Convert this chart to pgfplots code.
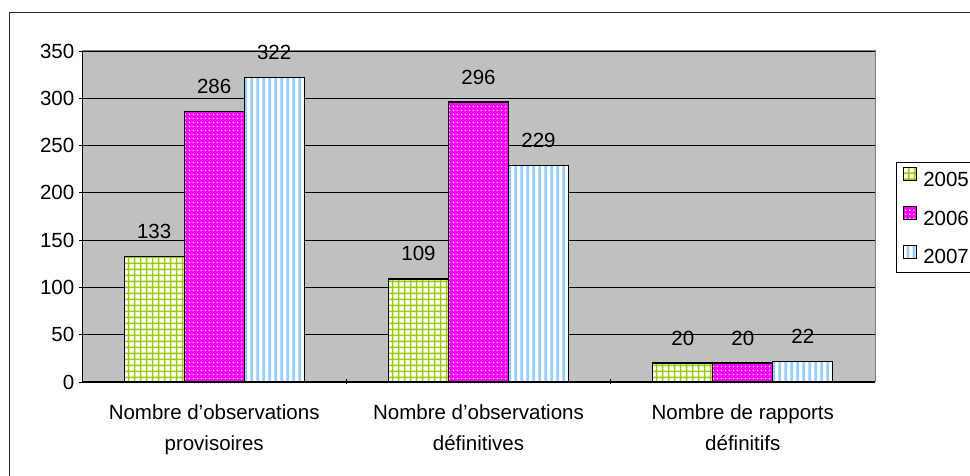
\documentclass[border=0pt]{standalone}
\usepackage{fontspec}
\setmainfont{Liberation Sans}
\usepackage{pgfplots}
\pgfplotsset{compat=1.18}
\usetikzlibrary{patterns}

\definecolor{xlgreen}{HTML}{99CC00}
\definecolor{xlmagenta}{HTML}{FF00FF}
\definecolor{xlblue}{HTML}{99CCFF}
\definecolor{xlgrey}{HTML}{C0C0C0}
\definecolor{xlborder}{HTML}{808080}

% fine grid, white dots and vertical stripes (fills run slightly past the
% tile edge along each line so that no seams appear between tiles)
\pgfdeclarepatternformonly{xlgrid}{\pgfqpoint{0pt}{0pt}}{\pgfqpoint{6pt}{6pt}}{\pgfqpoint{6pt}{6pt}}{%
  \pgfpathrectangle{\pgfqpoint{-1pt}{2.1pt}}{\pgfqpoint{8pt}{1.8pt}}%
  \pgfpathrectangle{\pgfqpoint{2.1pt}{-1pt}}{\pgfqpoint{1.8pt}{8pt}}%
  \pgfusepath{fill}}
\pgfdeclarepatternformonly{xldots}{\pgfqpoint{0pt}{0pt}}{\pgfqpoint{4pt}{4pt}}{\pgfqpoint{4pt}{4pt}}{%
  \pgfpathrectangle{\pgfqpoint{1.2pt}{1.2pt}}{\pgfqpoint{1.6pt}{1.6pt}}%
  \pgfusepath{fill}}
\pgfdeclarepatternformonly{xlstripes}{\pgfqpoint{0pt}{0pt}}{\pgfqpoint{5.8pt}{6pt}}{\pgfqpoint{5.8pt}{6pt}}{%
  \pgfpathrectangle{\pgfqpoint{1.5pt}{-1pt}}{\pgfqpoint{2.8pt}{8pt}}%
  \pgfusepath{fill}}

\pgfkeys{/pgf/number format/assume math mode=true}

\begin{document}
\fontsize{20.5}{30.5}\selectfont
\begin{tikzpicture}[x=1pt,y=1pt]
\draw[line width=1pt, black!85] (9,-10) -- (9,463) -- (990,463);
\begin{axis}[
  at={(82pt,94pt)}, anchor=south west,
  scale only axis, width=793pt, height=331pt,
  ybar=0pt, bar width=60pt,
  xmin=-0.5, xmax=2.5, ymin=0, ymax=350,
  xtick={0,1,2},
  xticklabels={{Nombre d’observations\\provisoires},
               {Nombre d’observations\\définitives},
               {Nombre de rapports\\définitifs}},
  xticklabel style={align=center, anchor=north, inner sep=0pt, yshift=-20pt},
  minor xtick={0.5,1.5},
  major x tick style={draw=none},
  minor x tick style={black, line width=0.8pt},
  ytick={0,50,...,350},
  yticklabel style={inner sep=0pt, xshift=-5pt},
  tick align=outside, major tick length=5pt, minor tick length=5pt,
  y tick style={black, line width=0.8pt},
  axis lines=left,
  axis line style={-, black, line width=1pt},
  axis background/.style={fill=xlgrey, draw=xlborder, line width=1pt},
  ymajorgrids, major grid style={black, line width=0.8pt},
  nodes near coords,
  every node near coord/.append style={anchor=base, yshift=18pt, inner sep=0pt},
  legend cell align=left,
  legend style={at={(rel axis cs:1,0.665)}, anchor=north west, xshift=21pt,
    draw=black, line width=0.8pt, fill=white, inner xsep=7pt, inner ysep=5pt,
    row sep=15.5pt,
    nodes={inner sep=0pt, text height=14pt, text depth=4pt},
    /tikz/every odd column/.append style={column sep=6pt}},
  legend image code/.code={\draw[#1, line width=0.9pt] (0pt,0.7pt) rectangle (13pt,13.7pt);},
]
\addplot[draw=black, line width=1.2pt, fill=white,
  postaction={pattern=xlgrid, pattern color=xlgreen}]
  coordinates {(0,133) (1,109) (2,20)};
\addplot[draw=black, line width=1.2pt, fill=xlmagenta,
  postaction={pattern=xldots, pattern color=white}]
  coordinates {(0,286) (1,296) (2,20)};
\addplot[draw=black, line width=1.2pt, fill=white,
  postaction={pattern=xlstripes, pattern color=xlblue}]
  coordinates {(0,322) (1,229) (2,22)};
\legend{2005,2006,2007}
\end{axis}
\pgfresetboundingbox
\path[use as bounding box] (0,0) rectangle (970,476);
\end{tikzpicture}
\end{document}
